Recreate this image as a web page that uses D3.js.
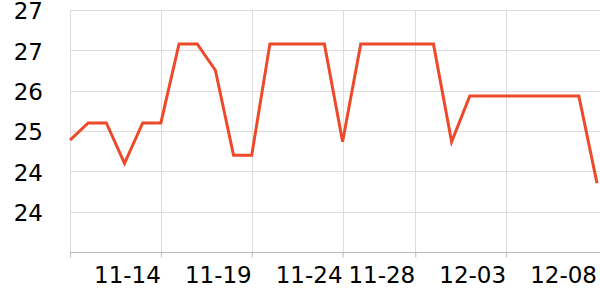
<!DOCTYPE html>
<html>
<head>
<meta charset="utf-8">
<script src="https://cdn.jsdelivr.net/npm/d3@7"></script>
<style>
  html, body { margin: 0; padding: 0; background: #fff; }
  svg { display: block; font-family: "DejaVu Sans", sans-serif; }
</style>
</head>
<body>
<div id="chart"></div>
<script>
// categories: one point per day
const dates = ["11-09","11-10","11-11","11-12","11-13","11-14","11-15","11-16","11-17","11-18",
  "11-19","11-20","11-21","11-22","11-23","11-24","11-25","11-26","11-27","11-28",
  "11-29","11-30","12-01","12-02","12-03","12-04","12-05","12-06","12-07","12-08"];
const values = [25.33, 25.65, 25.65, 24.90, 25.65, 25.65, 27.12, 27.12, 26.63, 25.05,
  25.05, 27.12, 27.12, 27.12, 27.12, 25.30, 27.12, 27.12, 27.12, 27.12,
  27.12, 25.30, 26.15, 26.15, 26.15, 26.15, 26.15, 26.15, 26.15, 24.53];
const xTicks = ["11-09", "11-14", "11-19", "11-24", "11-28", "12-03", "12-08"];
const xTickLabels = ["", "11-14", "11-19", "11-24", "11-28", "12-03", "12-08"];
const yTicks = [27.75, 27.0, 26.25, 25.5, 24.75, 24.0];
const yTickLabels = ["27", "27", "26", "25", "24", "24"];

const width = 600, height = 300;
const margin = { top: 10, right: 3, bottom: 48, left: 70 };

const svg = d3.select("#chart").append("svg")
  .attr("width", width)
  .attr("height", height);

const x = d3.scalePoint()
  .domain(dates)
  .range([margin.left, width - margin.right]);
const y = d3.scaleLinear()
  .domain([23.25, 27.75])
  .range([height - margin.bottom, margin.top]);

// horizontal grid
svg.append("g")
  .selectAll("line")
  .data(yTicks)
  .join("line")
  .attr("x1", margin.left)
  .attr("x2", width)
  .attr("y1", d => Math.round(y(d)) + 0.5)
  .attr("y2", d => Math.round(y(d)) + 0.5)
  .attr("stroke", "#dcdcdc")
  .attr("stroke-width", 1);

// vertical grid (not at the last tick)
svg.append("g")
  .selectAll("line")
  .data(xTicks.slice(0, -1))
  .join("line")
  .attr("x1", d => Math.round(x(d)) + 0.5)
  .attr("x2", d => Math.round(x(d)) + 0.5)
  .attr("y1", margin.top)
  .attr("y2", height - margin.bottom)
  .attr("stroke", "#dcdcdc")
  .attr("stroke-width", 1);

// y labels
svg.append("g")
  .selectAll("text")
  .data(yTicks)
  .join("text")
  .attr("x", 43)
  .attr("y", d => y(d))
  .attr("dy", "0.4em")
  .attr("text-anchor", "end")
  .attr("font-size", 23)
  .attr("fill", "#000")
  .text((d, i) => yTickLabels[i]);

// x axis
const xAxis = svg.append("g")
  .attr("transform", `translate(0,${height - margin.bottom + 0.5})`)
  .call(d3.axisBottom(x).tickValues(xTicks.slice(0, -1)).tickSize(5).tickFormat(() => "").tickSizeOuter(0));
xAxis.select(".domain")
  .attr("d", `M${margin.left},0H${width}`)
  .attr("stroke", "#bbb");
xAxis.selectAll(".tick line").attr("stroke", "#bbb");

svg.append("g")
  .selectAll("text")
  .data(xTicks)
  .join("text")
  .attr("x", d => x(d))
  .attr("y", height - margin.bottom + 31)
  .attr("text-anchor", "end")
  .attr("font-size", 23)
  .attr("fill", "#000")
  .text((d, i) => xTickLabels[i]);

// line
const line = d3.line()
  .x((d, i) => x(dates[i]))
  .y(d => y(d));
svg.append("path")
  .datum(values)
  .attr("fill", "none")
  .attr("stroke", "#ec4a2b")
  .attr("stroke-width", 3)
  .attr("stroke-linejoin", "miter")
  .attr("d", line);
</script>
</body>
</html>
